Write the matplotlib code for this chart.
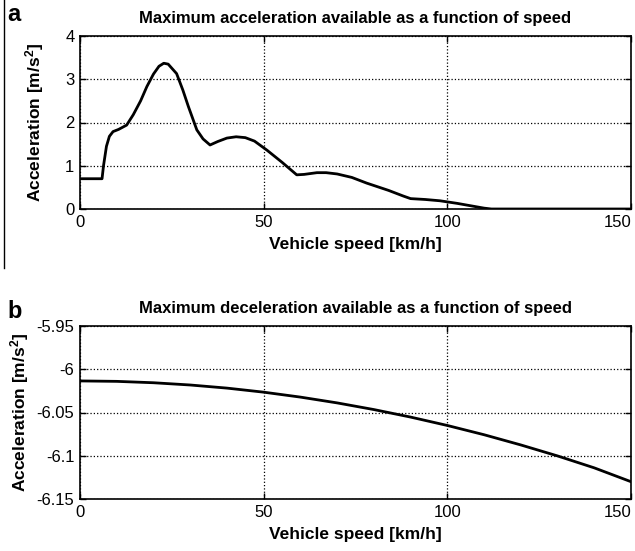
import numpy as np
import matplotlib.pyplot as plt
from matplotlib.lines import Line2D

plt.rcParams['font.family'] = ['Liberation Sans', 'DejaVu Sans']
plt.rcParams['mathtext.fontset'] = 'custom'
plt.rcParams['mathtext.rm'] = 'Liberation Sans:bold'
plt.rcParams['mathtext.it'] = 'Liberation Sans:bold'
plt.rcParams['mathtext.bf'] = 'Liberation Sans:bold'

# panel a: maximum acceleration vs speed
speed_acc = [0, 6.0, 6.4, 7.2, 8.0, 9.0, 10.5, 12.7, 14.5, 16.5, 18.2, 20.0, 21.5, 22.8,
             24.0, 26.3, 28.0, 29.5, 31.8, 33.5, 35.4, 37.5, 40.0, 42.5, 45.0, 47.5,
             50.9, 55.0, 59.0, 61.0, 64.5, 67.0, 70.0, 74.0, 78.0, 84.0, 88.0, 90.0,
             94.0, 98.0, 102.7, 106.0, 110.0, 112.0, 130.0, 150.0]
acc = [0.70, 0.70, 1.00, 1.45, 1.68, 1.79, 1.84, 1.94, 2.18, 2.50, 2.83, 3.12, 3.30, 3.37,
       3.35, 3.13, 2.75, 2.37, 1.83, 1.62, 1.48, 1.56, 1.64, 1.67, 1.65, 1.57,
       1.36, 1.08, 0.79, 0.80, 0.84, 0.84, 0.81, 0.73, 0.60, 0.43, 0.30, 0.24,
       0.22, 0.19, 0.13, 0.08, 0.02, 0.0, 0.0, 0.0]

# panel b: maximum deceleration vs speed
speed_dec = [0, 10, 20, 30, 40, 50, 60, 70, 80, 90, 100, 110, 120, 130, 140, 150]
dec = [-6.0135, -6.0140, -6.0156, -6.0182, -6.0218, -6.0265, -6.0322, -6.0389,
       -6.0466, -6.0553, -6.0650, -6.0757, -6.0875, -6.1002, -6.1140, -6.1300]

fig = plt.figure(figsize=(6.35, 5.51), dpi=100)

ax1 = fig.add_axes([80 / 635, 1 - 209 / 551, 551 / 635, 173 / 551])
ax2 = fig.add_axes([80 / 635, 1 - 499 / 551, 551 / 635, 173 / 551])

ax1.plot(speed_acc, acc, color='black', lw=2.0)
ax1.set_xlim(0, 150)
ax1.set_ylim(0, 4)
ax1.set_xticks([0, 50, 100, 150])
ax1.set_yticks([0, 1, 2, 3, 4])
ax1.set_title('Maximum acceleration available as a function of speed',
              fontsize=12, fontweight='bold', pad=9)

ax2.plot(speed_dec, dec, color='black', lw=2.0)
ax2.set_xlim(0, 150)
ax2.set_ylim(-6.15, -5.95)
ax2.set_xticks([0, 50, 100, 150])
ax2.set_yticks([-6.15, -6.1, -6.05, -6.0, -5.95])
ax2.set_yticklabels(['-6.15', '-6.1', '-6.05', '-6', '-5.95'])
ax2.set_title('Maximum deceleration available as a function of speed',
              fontsize=12, fontweight='bold', pad=9)

for ax, ypad in ((ax1, 14), (ax2, 4)):
    ax.grid(True, color='black', linestyle=':', lw=0.9)
    ax.tick_params(direction='in', length=4, labelsize=12, width=1, pad=4,
                   top=True, right=True)
    for s in ax.spines.values():
        s.set_linewidth(1.2)
    ax.set_xlabel('Vehicle speed [km/h]', fontsize=12.5, fontweight='bold', labelpad=5)
    ax.set_ylabel('Acceleration [m/s$^2$]', fontsize=12.5, fontweight='bold', labelpad=ypad)

# keep the last x tick label inside the figure, as in the reference
fig.canvas.draw()
for ax in (ax1, ax2):
    ax.get_xticklabels()[-1].set_horizontalalignment('right')

fig.text(7 / 635, 1 - 21 / 551, 'a', fontsize=17, fontweight='bold')
fig.text(7 / 635, 1 - 318 / 551, 'b', fontsize=17, fontweight='bold')
fig.add_artist(Line2D([4 / 635, 4 / 635], [1, 1 - 268 / 551], color='black', lw=1.0))

fig.savefig('out.png', dpi=100)
